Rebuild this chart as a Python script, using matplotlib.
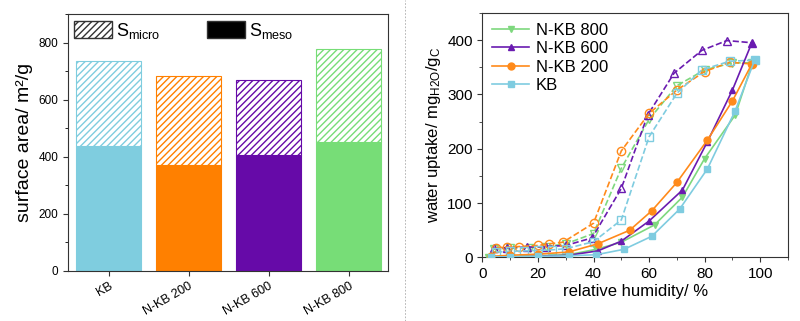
import matplotlib
matplotlib.use("Agg")
import matplotlib.pyplot as plt
from matplotlib.patches import Patch
from matplotlib.lines import Line2D
from matplotlib.ticker import MultipleLocator

plt.rcParams["font.family"] = ["Liberation Sans", "DejaVu Sans"]
plt.rcParams["mathtext.fontset"] = "custom"
plt.rcParams["mathtext.rm"] = "Liberation Sans"
plt.rcParams["mathtext.it"] = "Liberation Sans:italic"
plt.rcParams["hatch.linewidth"] = 1.0

# Surface area data (left panel)
samples = ["KB", "N-KB 200", "N-KB 600", "N-KB 800"]
s_meso = [437, 370, 407, 452]
s_total = [738, 684, 671, 777]
bar_colors = ["#7FCDDF", "#FF8000", "#660AA8", "#77DD77"]

# Water uptake data (right panel): adsorption (solid) and desorption (dashed)
kb_ads_x = [3, 10, 20, 31, 41, 51, 61, 71, 81, 91, 98]
kb_ads_y = [1, 1, 2, 3, 5, 15, 39, 89, 163, 270, 363]
kb_des_x = [5, 10, 15, 20, 25, 30, 40, 50, 60, 70, 79, 89, 98]
kb_des_y = [10, 11, 12, 13, 14, 16, 29, 69, 222, 302, 345, 361, 363]

nkb200_ads_x = [3, 10, 20, 31, 41.5, 53, 61, 70, 81, 90, 97]
nkb200_ads_y = [2, 4, 6, 10, 25, 50, 86, 138, 216, 288, 356]
nkb200_des_x = [5, 9, 13, 20, 24, 29, 40, 50, 60, 70, 80, 89, 97]
nkb200_des_y = [18, 19, 20, 22, 25, 28, 63, 196, 265, 308, 342, 359, 356]

nkb600_ads_x = [3, 10, 20, 31, 41.5, 50, 60, 72, 81, 90, 97]
nkb600_ads_y = [1, 1, 2, 4, 12, 30, 67, 124, 213, 308, 395]
nkb600_des_x = [4, 9, 16, 23, 30, 39.5, 50, 59.5, 69, 79, 88, 97]
nkb600_des_y = [17, 18, 19, 20, 22, 36, 127, 262, 339, 381, 399, 395]

nkb800_ads_x = [2, 10, 20, 31, 41, 50, 62, 72, 80, 91, 97]
nkb800_ads_y = [0, 1, 3, 5, 15, 28, 60, 111, 182, 262, 355]
nkb800_des_x = [4, 10, 17, 23, 30, 40, 50, 60, 70, 80, 90, 97]
nkb800_des_y = [15, 17, 18, 20, 25, 44, 164, 254, 316, 345, 358, 358]

fig = plt.figure(figsize=(8, 3.21), dpi=100)

# Left panel: stacked bars
ax1 = fig.add_axes([0.085, 0.157, 0.400, 0.798])
positions = range(len(samples))
for pos, meso, total, color in zip(positions, s_meso, s_total, bar_colors):
    ax1.bar(pos, meso, width=0.81, color=color, edgecolor=color, linewidth=0.8)
    ax1.bar(pos, total - meso, bottom=meso, width=0.81, facecolor="white",
            edgecolor=color, hatch="/////", linewidth=0.8)

ax1.set_xlim(-0.51, 3.49)
ax1.set_ylim(0, 900)
ax1.set_xticks(list(positions))
ax1.set_xticklabels(samples, rotation=30, ha="right", rotation_mode="anchor", fontsize=9)
ax1.yaxis.set_major_locator(MultipleLocator(200))
ax1.yaxis.set_minor_locator(MultipleLocator(100))
ax1.tick_params(axis="y", labelsize=8.5, direction="out", length=3.5, color="#333333")
ax1.tick_params(axis="y", which="minor", length=2)
ax1.tick_params(axis="x", direction="out", length=3.5, color="#333333")
ax1.set_ylabel("surface area/ m²/g", fontsize=14, labelpad=4)
for spine in ax1.spines.values():
    spine.set_color("#333333")

legend_handles = [
    Patch(facecolor="white", edgecolor="#333333", hatch="/////", label=r"S$_{\mathrm{micro}}$"),
    Patch(facecolor="black", edgecolor="#333333", label=r"S$_{\mathrm{meso}}$"),
]
ax1.legend(handles=legend_handles, loc="upper left", ncol=2, frameon=False,
           fontsize=13, handlelength=2.1, handleheight=1.1, handletextpad=0.2,
           columnspacing=2.6, borderaxespad=0.15, borderpad=0.2)

# Right panel: water uptake isotherms
ax2 = fig.add_axes([0.603, 0.198, 0.382, 0.762])
series = [
    ("N-KB 800", "#7ED87E", "v", nkb800_ads_x, nkb800_ads_y, nkb800_des_x, nkb800_des_y),
    ("N-KB 600", "#6A1BB0", "^", nkb600_ads_x, nkb600_ads_y, nkb600_des_x, nkb600_des_y),
    ("N-KB 200", "#FF8A1A", "o", nkb200_ads_x, nkb200_ads_y, nkb200_des_x, nkb200_des_y),
    ("KB", "#7FCCE0", "s", kb_ads_x, kb_ads_y, kb_des_x, kb_des_y),
]
handles = []
for label, color, marker, ax_x, ax_y, de_x, de_y in series:
    ax2.plot(de_x, de_y, linestyle="--", color=color, marker=marker, markersize=6,
             markerfacecolor="none", markeredgecolor=color, linewidth=1.2, zorder=2)
for label, color, marker, ax_x, ax_y, de_x, de_y in series:
    ax2.plot(ax_x, ax_y, linestyle="-", color=color, marker=marker, markersize=5,
             markerfacecolor=color, markeredgecolor=color, linewidth=1.2, zorder=3)
    handles.append(Line2D([0], [0], color=color, marker=marker, markersize=5,
                          linewidth=1.2, label=label))

ax2.set_xlim(0, 110)
ax2.set_ylim(0, 450)
ax2.xaxis.set_major_locator(MultipleLocator(20))
ax2.xaxis.set_minor_locator(MultipleLocator(10))
ax2.yaxis.set_major_locator(MultipleLocator(100))
ax2.yaxis.set_minor_locator(MultipleLocator(50))
ax2.tick_params(which="both", direction="out", labelsize=11, color="#333333")
ax2.tick_params(which="major", length=3.5)
ax2.tick_params(which="minor", length=2)
ax2.set_xlabel("relative humidity/ %", fontsize=12, labelpad=2)
ax2.set_ylabel(r"water uptake/ mg$_{\mathrm{H2O}}$/g$_{\mathrm{C}}$", fontsize=12, labelpad=3)
for spine in ax2.spines.values():
    spine.set_color("#333333")
ax2.legend(handles=handles, loc="upper left", frameon=False, fontsize=12,
           handlelength=2.2, handletextpad=0.4, labelspacing=0.2,
           borderaxespad=0.3, borderpad=0.3)

# Dashed separator between the panels
fig.add_artist(Line2D([0.506, 0.506], [0.0, 1.0], transform=fig.transFigure,
                      color="#AAAAAA", linestyle=(0, (2, 2)), linewidth=0.6))

fig.savefig("out.png", dpi=100)
